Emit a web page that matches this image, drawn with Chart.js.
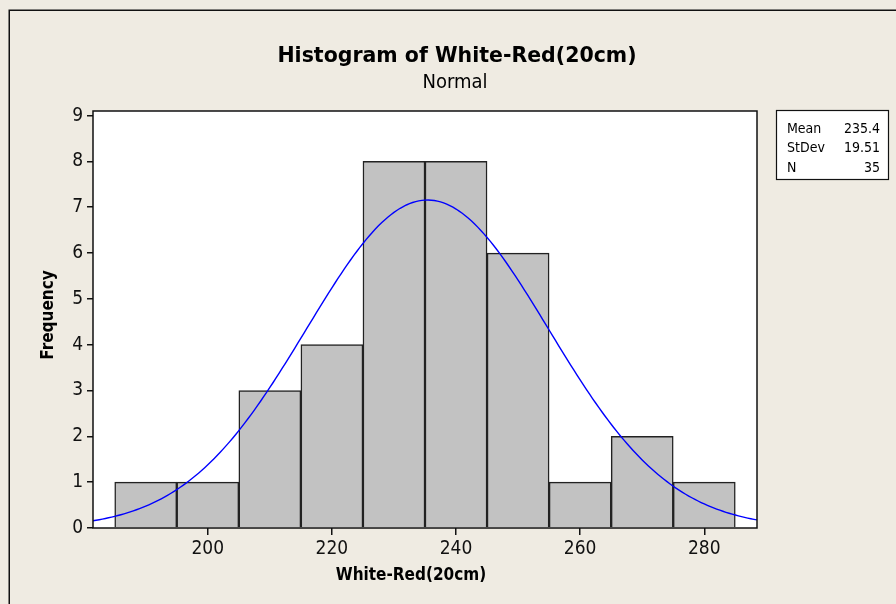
<!DOCTYPE html>
<html>
<head>
<meta charset="utf-8">
<script src="https://cdn.jsdelivr.net/npm/chart.js@4.4.1/dist/chart.umd.min.js"></script>
<style>
  html, body { margin: 0; padding: 0; background: #efebe2; }
  #wrap { width: 896px; height: 604px; }
</style>
</head>
<body>
<div id="wrap"><canvas id="hist" width="896" height="604"></canvas></div>
<script>
// Histogram bins (centres) and counts
const binCentres = [190, 200, 210, 220, 230, 240, 250, 260, 270, 280];
const frequencies = [1, 1, 3, 4, 8, 8, 6, 1, 2, 1];

// Fitted normal summary
const statLabels = ['Mean', 'StDev', 'N'];
const statValues = ['235.4', '19.51', '35'];
const fitMean = 235.4;
const fitStDev = 19.51;
const fitN = 35;
const binWidth = 10;

// Axis ticks
const xTicks = [200, 220, 240, 260, 280];
const yTicks = [0, 1, 2, 3, 4, 5, 6, 7, 8, 9];
const xRange = [181.5, 288.5];
const yRange = [0, 9.1];

const FONT = '"DejaVu Sans Condensed", "DejaVu Sans", sans-serif';
const WIDE = '"DejaVu Sans", sans-serif';

// Normal density scaled to counts (N * bin width)
const curve = [];
for (let x = xRange[0]; x <= xRange[1] + 1e-9; x += 0.5) {
  const z = (x - fitMean) / fitStDev;
  const y = fitN * binWidth * Math.exp(-0.5 * z * z) / (fitStDev * Math.sqrt(2 * Math.PI));
  curve.push({ x: x, y: y });
}

const decorations = {
  id: 'decorations',
  beforeDraw(chart) {
    const { ctx, chartArea: a } = chart;
    ctx.save();
    ctx.fillStyle = '#efebe2';
    ctx.fillRect(0, 0, chart.width, chart.height);
    ctx.strokeStyle = '#111';
    ctx.lineWidth = 1.5;
    ctx.strokeRect(9.25, 10.25, 1000, 1000);
    ctx.fillStyle = '#ffffff';
    ctx.fillRect(a.left, a.top, a.right - a.left, a.bottom - a.top);
    ctx.restore();
  },
  afterDraw(chart) {
    const { ctx, chartArea: a } = chart;
    ctx.save();
    // plot frame
    ctx.strokeStyle = '#111';
    ctx.lineWidth = 1.5;
    ctx.strokeRect(a.left, a.top, a.right - a.left, a.bottom - a.top);

    // title and subtitle
    ctx.fillStyle = '#000';
    ctx.textAlign = 'center';
    ctx.textBaseline = 'alphabetic';
    ctx.font = 'bold 20.5px ' + WIDE;
    ctx.fillText('Histogram of White-Red(20cm)', 457, 62);
    ctx.font = '20px ' + FONT;
    ctx.fillText('Normal', 455, 88);

    // x axis label
    ctx.font = 'bold 17px ' + FONT;
    ctx.textBaseline = 'middle';
    ctx.fillText('White-Red(20cm)', 411, 576);

    // y axis label
    ctx.translate(49, 315);
    ctx.rotate(-Math.PI / 2);
    ctx.fillText('Frequency', 0, 0);
    ctx.setTransform(1, 0, 0, 1, 0, 0);

    // statistics box
    ctx.fillStyle = '#ffffff';
    ctx.fillRect(776, 110, 113, 70);
    ctx.strokeStyle = '#111';
    ctx.lineWidth = 1.2;
    ctx.strokeRect(776.5, 110.5, 112, 69);
    ctx.fillStyle = '#000';
    ctx.font = '14px ' + FONT;
    ctx.textBaseline = 'middle';
    statLabels.forEach((s, i) => {
      const y = 129 + i * 19.5;
      ctx.textAlign = 'left';
      ctx.fillText(s, 787, y);
      ctx.textAlign = 'right';
      ctx.fillText(statValues[i], 880, y);
    });
    ctx.restore();
  }
};

new Chart(document.getElementById('hist'), {
  type: 'bar',
  data: {
    datasets: [
      {
        type: 'line',
        data: curve,
        borderColor: '#0000ff',
        borderWidth: 1.4,
        pointRadius: 0,
        tension: 0,
        fill: false,
        order: 0
      },
      {
        type: 'bar',
        data: binCentres.map((c, i) => ({ x: c, y: frequencies[i] })),
        backgroundColor: '#c2c2c2',
        borderColor: '#222',
        borderWidth: 1.5,
        barPercentage: 1,
        categoryPercentage: 1,
        order: 1
      }
    ]
  },
  options: {
    responsive: false,
    animation: false,
    devicePixelRatio: 1,
    layout: { padding: { top: 111, left: 0, right: 139, bottom: 0 } },
    plugins: { legend: { display: false }, tooltip: { enabled: false } },
    scales: {
      x: {
        type: 'linear',
        min: xRange[0],
        max: xRange[1],
        offset: false,
        afterBuildTicks: s => { s.ticks = xTicks.map(v => ({ value: v })); },
        afterFit: s => { s.height = 76; },
        border: { display: false },
        grid: { offset: false, drawOnChartArea: false, drawTicks: true, tickLength: 7, color: '#111', lineWidth: 1.5 },
        ticks: { color: '#111', font: { family: FONT, size: 19 }, padding: 3, maxRotation: 0 }
      },
      y: {
        min: yRange[0],
        max: yRange[1],
        afterBuildTicks: s => { s.ticks = yTicks.map(v => ({ value: v })); },
        afterFit: s => { s.width = 93; },
        border: { display: false },
        grid: { drawOnChartArea: false, drawTicks: true, tickLength: 6, color: '#111', lineWidth: 1.5 },
        ticks: { color: '#111', font: { family: FONT, size: 19 }, padding: 4 }
      }
    }
  },
  plugins: [decorations]
});
</script>
</body>
</html>
